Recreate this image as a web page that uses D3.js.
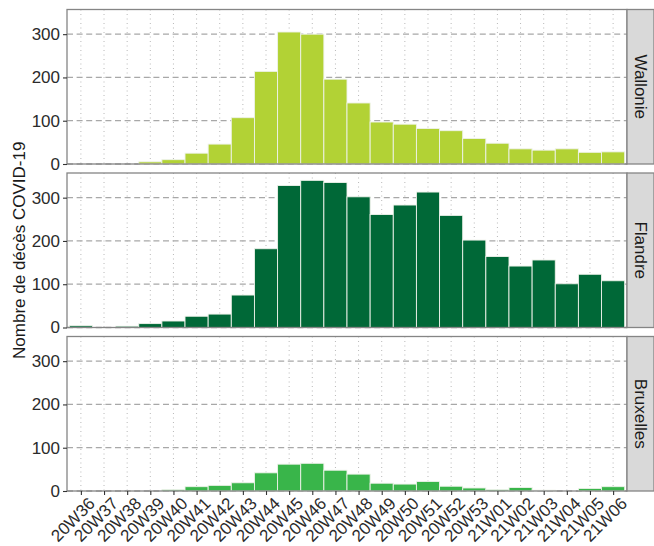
<!DOCTYPE html>
<html>
<head>
<meta charset="utf-8">
<script src="https://cdn.jsdelivr.net/npm/d3@7"></script>
<style>
  html, body { margin: 0; padding: 0; background: #fff; }
  svg { display: block; font-family: "Liberation Sans", Arial, sans-serif; }
</style>
</head>
<body>
<svg id="chart" width="654" height="546"></svg>
<script>
// Weekly COVID-19 deaths by region (ISO weeks)
const weeks = ["20W36","20W37","20W38","20W39","20W40","20W41","20W42","20W43","20W44","20W45","20W46","20W47",
               "20W48","20W49","20W50","20W51","20W52","20W53","21W01","21W02","21W03","21W04","21W05","21W06"];
const regions = ["Wallonie", "Flandre", "Bruxelles"];
const wallonie  = [0,0,0,5,10,25,46,107,214,305,300,196,141,97,92,82,77,59,48,35,32,35,27,28];
const flandre   = [4,0,3,9,15,26,31,75,182,328,340,335,302,261,283,313,259,202,164,142,156,101,123,108];
const bruxelles = [0,0,0,0,3,10,13,19,42,62,64,48,39,18,16,22,11,7,3,8,2,0,6,10];
const regionColors = ["#b2d235", "#006837", "#39b54a"];
const yTicks = [0, 100, 200, 300];
const yTitle = "Nombre de décès COVID-19";

const series = [wallonie, flandre, bruxelles];

const svg = d3.select("#chart");
const plotL = 67, plotR = 627, stripW = 27;
const panelTop = 9.5, panelH = 154.5, panelGap = 9;

// Discrete x axis with 0.6-category padding on each side
const step = (plotR - plotL) / (weeks.length - 1 + 1.2);
const x = d3.scalePoint().domain(weeks)
  .range([plotL + 0.6 * step, plotR - 0.6 * step]);

const yMax = d3.max(series.flat()) * 1.05;

regions.forEach((name, ri) => {
  const top = panelTop + ri * (panelH + panelGap);
  const bottom = top + panelH;
  const y = d3.scaleLinear().domain([0, yMax]).range([bottom, top]);
  const g = svg.append("g");

  // panel background
  g.append("rect").attr("x", plotL).attr("y", top)
    .attr("width", plotR - plotL).attr("height", panelH).attr("fill", "#fff");

  // vertical dotted grid
  g.append("g").selectAll("line").data(weeks).join("line")
    .attr("x1", d => x(d)).attr("x2", d => x(d))
    .attr("y1", top).attr("y2", bottom)
    .attr("stroke", "#b8b8b8").attr("stroke-width", 1)
    .attr("stroke-dasharray", "1,3.5");

  // horizontal dashed grid
  g.append("g").selectAll("line").data(yTicks).join("line")
    .attr("x1", plotL).attr("x2", plotR)
    .attr("y1", d => y(d)).attr("y2", d => y(d))
    .attr("stroke", "#a8a8a8").attr("stroke-width", 1.3)
    .attr("stroke-dasharray", "6,3.6");

  // bars
  const vals = series[ri];
  g.append("g").selectAll("rect").data(weeks).join("rect")
    .attr("x", d => x(d) - step / 2)
    .attr("width", step)
    .attr("y", (d, i) => y(vals[i]))
    .attr("height", (d, i) => y(0) - y(vals[i]))
    .attr("fill", regionColors[ri])
    .attr("stroke", "#eef2ea").attr("stroke-width", 0.9);

  // panel border
  g.append("rect").attr("x", plotL).attr("y", top)
    .attr("width", plotR - plotL).attr("height", panelH)
    .attr("fill", "none").attr("stroke", "#858585").attr("stroke-width", 1.3);

  // strip
  g.append("rect").attr("x", plotR).attr("y", top)
    .attr("width", stripW).attr("height", panelH)
    .attr("fill", "#d9d9d9").attr("stroke", "#858585").attr("stroke-width", 1.3);
  g.append("text")
    .attr("transform", `translate(${plotR + stripW / 2},${top + panelH / 2}) rotate(90)`)
    .attr("text-anchor", "middle").attr("dy", "0.35em")
    .attr("font-size", 17).attr("fill", "#1a1a1a")
    .text(name);

  // y axis
  const yAxis = d3.axisLeft(y).tickValues(yTicks).tickSize(4).tickPadding(3);
  const ya = g.append("g").attr("transform", `translate(${plotL},0)`).call(yAxis);
  ya.select(".domain").remove();
  ya.selectAll(".tick line").attr("stroke", "#333").attr("stroke-width", 1.1);
  ya.selectAll(".tick text").attr("font-size", 17).attr("fill", "#2b2b2b")
    .attr("font-family", "Liberation Sans, Arial, sans-serif");

  // x axis on the last panel only, labels slanted with their top-right corner at the tick
  if (ri === regions.length - 1) {
    const xAxis = d3.axisBottom(x).tickSize(4).tickPadding(2);
    const xa = g.append("g").attr("transform", `translate(0,${bottom})`).call(xAxis);
    xa.select(".domain").remove();
    xa.selectAll(".tick line").attr("stroke", "#333").attr("stroke-width", 1.1);
    xa.selectAll(".tick text")
      .attr("font-size", 17).attr("fill", "#2b2b2b")
      .attr("font-family", "Liberation Sans, Arial, sans-serif")
      .attr("text-anchor", "end")
      .attr("x", 0).attr("y", 0)
      .attr("dy", "0.72em")
      .attr("transform", "translate(6,5) rotate(-45)");
  }
});

// y axis title
svg.append("text")
  .attr("transform", `translate(19,${(panelTop + panelTop + 3 * panelH + 2 * panelGap) / 2}) rotate(-90)`)
  .attr("text-anchor", "middle").attr("dy", "0.35em")
  .attr("font-size", 17).attr("fill", "#1a1a1a")
  .text(yTitle);
</script>
</body>
</html>
